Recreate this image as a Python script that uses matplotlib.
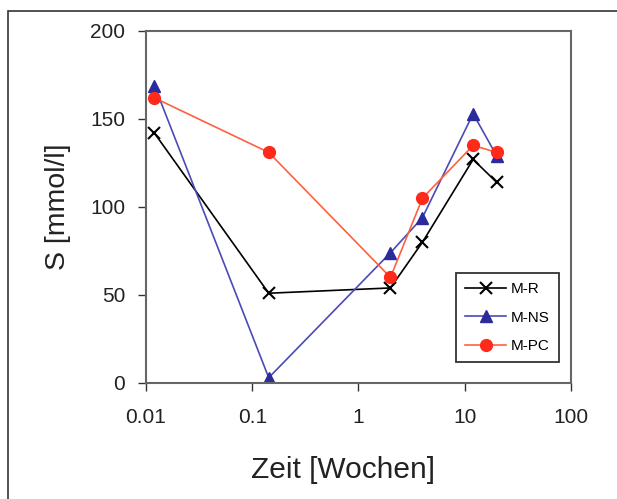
import matplotlib
matplotlib.use('Agg')
from matplotlib import pyplot as plt
from matplotlib.patches import Rectangle

# Zeit in Wochen (2 h, 1 Tag, 2, 4, 12, 20 Wochen)
zeit = [0.012, 0.143, 2, 4, 12, 20]
m_r = [142, 51, 54, 80, 127, 114]
m_ns = [169, 3, 74, 94, 153, 129]
m_pc = [162, 131, 60, 105, 135, 131]

x_ticks = [0.01, 0.1, 1, 10, 100]
x_labels = ['0.01', '0.1', '1', '10', '100']
y_ticks = [0, 50, 100, 150, 200]


def main():
    plt.rcParams['font.family'] = ['Liberation Sans', 'DejaVu Sans']
    fig = plt.figure(figsize=(6.17, 4.99), dpi=100)
    ax = fig.add_axes([0.2366, 0.2325, 0.6888, 0.7054])

    ax.plot(zeit, m_r, c='black', lw=1.2, marker='x', ms=8, mew=1.5,
            label='M-R')
    ax.plot(zeit, m_ns, c='#4a4ab8', lw=1.2, marker='^', ms=8.5,
            mfc='#2b2b9c', mec='#2b2b9c', label='M-NS')
    ax.plot(zeit, m_pc, c='#ff6040', lw=1.2, marker='o', ms=8.5,
            mfc='#ff2a1a', mec='#ff2a1a', label='M-PC')

    ax.set_xscale('log')
    ax.set_xlim(0.01, 100)
    ax.set_ylim(0, 200)
    ax.set_xticks(x_ticks)
    ax.set_xticklabels(x_labels)
    ax.minorticks_off()
    ax.set_yticks(y_ticks)
    ax.tick_params(direction='out', length=6, width=1, colors='#333333',
                   labelsize=15, labelcolor='#222222')
    ax.tick_params(axis='x', pad=12)
    ax.tick_params(axis='y', pad=9)
    for s in ax.spines.values():
        s.set_color('#666666')
        s.set_linewidth(1.5)

    ax.set_xlabel('Zeit [Wochen]', fontsize=21.5, color='#222222')
    ax.xaxis.set_label_coords(0.4635, -0.207)
    ax.set_ylabel('S [mmol/l]', fontsize=20.5, color='#222222', labelpad=14)

    leg = ax.legend(loc='upper left', bbox_to_anchor=(456 / 617, 1 - 273 / 499),
                    bbox_transform=fig.transFigure, fontsize=11,
                    fancybox=False, framealpha=1, edgecolor='#333333',
                    handlelength=2.7, labelspacing=0.95, borderpad=0.6,
                    handletextpad=0.3, borderaxespad=0)
    leg.get_frame().set_linewidth(1.3)

    # Rahmen um das ganze Bild (rechts und unten abgeschnitten)
    fig.patches.append(Rectangle((8 / 617, -0.5), 2, 1.5 - 11 / 499,
                                 transform=fig.transFigure, fill=False,
                                 ec='#333333', lw=1.2))

    fig.savefig('out.png', dpi=100)


if __name__ == "__main__":
    main()
